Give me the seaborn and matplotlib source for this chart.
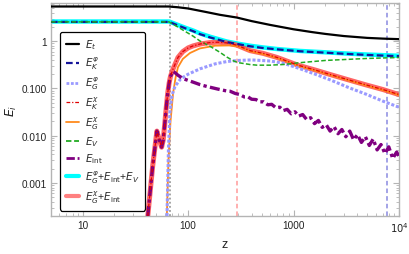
import matplotlib
matplotlib.use('Agg')
import matplotlib.pyplot as plt
import seaborn as sns
from matplotlib.ticker import FixedLocator, LogLocator, NullFormatter
from matplotlib.lines import Line2D

sns.set_theme(style='ticks')
plt.rcParams['font.family'] = ['Liberation Sans', 'DejaVu Sans']
plt.rcParams['mathtext.fontset'] = 'dejavusans'

# ---- data ----
z_t = [5, 65, 80, 100, 150, 200, 290, 400, 600, 1000, 1500, 2000, 3000, 5000, 7000, 10000]
E_t = [5.4, 5.4, 5.2, 4.9, 4.1, 3.6, 3.15, 2.65, 2.2, 1.78, 1.55, 1.42, 1.28, 1.17, 1.13, 1.1]

z_phi = [5, 66, 80, 95, 111, 130, 161, 200, 233, 300, 385, 500, 700, 1150, 2000, 3000, 5000, 10000]
E_K_phi = [2.55, 2.55, 2.15, 1.85, 1.63, 1.4, 1.2, 1.05, 0.95, 0.86, 0.78, 0.72, 0.67, 0.61, 0.57, 0.54, 0.51, 0.48]
E_sum_phi = [2.6, 2.6, 2.2, 1.9, 1.68, 1.45, 1.24, 1.08, 0.98, 0.88, 0.8, 0.74, 0.68, 0.62, 0.58, 0.55, 0.52, 0.49]

z_v = [5, 66, 80, 111, 130, 161, 200, 233, 270, 300, 385, 450, 600, 800, 1150, 2000, 5000, 10000]
E_V = [2.55, 2.55, 1.98, 1.28, 1.0, 0.78, 0.58, 0.46, 0.38, 0.35, 0.32, 0.31, 0.31, 0.32, 0.35, 0.39, 0.43, 0.45]

z_chi = [41.4, 46, 50.5, 53, 56, 58, 60, 62, 64, 66, 68, 72, 80, 89, 100, 111, 130, 160, 190, 230,
         290, 385, 515, 700, 1100, 1600, 2250, 3300, 4900, 7000, 10000]
E_sum_chi = [2e-4, 0.0022, 0.0125, 0.0085, 0.0057, 0.008, 0.018, 0.04, 0.08, 0.13, 0.18, 0.26, 0.45, 0.6,
             0.72, 0.79, 0.87, 0.93, 0.95, 0.92, 0.82, 0.63, 0.55, 0.45, 0.31, 0.245, 0.195, 0.152,
             0.118, 0.095, 0.074]
E_K_chi = [2e-4, 0.0022, 0.0125, 0.0085, 0.0057, 0.008, 0.018, 0.04, 0.08, 0.13, 0.18, 0.26, 0.45, 0.6,
           0.72, 0.79, 0.87, 0.93, 0.95, 0.92, 0.82, 0.63, 0.55, 0.45, 0.31, 0.245, 0.195, 0.152,
           0.118, 0.095, 0.074]

z_gchi = [62.8, 65, 68, 72, 76, 80, 89, 104, 129, 180, 250, 300, 385, 515, 700, 1100, 1600, 2250,
          3300, 4900, 7000, 10000]
E_G_chi = [2e-4, 0.003, 0.02, 0.08, 0.17, 0.28, 0.42, 0.56, 0.70, 0.80, 0.81, 0.77, 0.61, 0.53, 0.44,
           0.30, 0.238, 0.19, 0.148, 0.115, 0.092, 0.072]

z_gphi = [63, 65, 67, 70, 75, 85, 100, 130, 180, 233, 300, 400, 600, 800, 1100, 1600, 2250, 3300,
          4900, 7000, 10000]
E_G_phi = [2e-4, 0.005, 0.03, 0.07, 0.11, 0.16, 0.2, 0.26, 0.33, 0.37, 0.39, 0.40, 0.38, 0.34, 0.27,
           0.2, 0.15, 0.105, 0.075, 0.054, 0.04]

z_int = [41.4, 46, 50.5, 53, 56, 58, 60, 62, 64, 66, 68, 72, 76, 80, 90, 111, 130, 150, 190, 233,
         250, 280, 310, 340, 370, 400, 440, 480, 520, 570, 620, 680, 740, 800, 870, 950, 1030, 1120,
         1220, 1330, 1450, 1580, 1720, 1870, 2040, 2220, 2420, 2640, 2870, 3130, 3410, 3710, 4040,
         4400, 4800, 5230, 5690, 6200, 6750, 7350, 8000, 8720, 9500, 10000]
E_int = [2e-4, 0.0022, 0.0125, 0.0085, 0.0057, 0.008, 0.018, 0.04, 0.08, 0.13, 0.18, 0.23, 0.21, 0.19,
         0.16, 0.136, 0.12, 0.11, 0.097, 0.088, 0.087, 0.078, 0.074, 0.066, 0.066, 0.059, 0.058, 0.052,
         0.052, 0.045, 0.046, 0.039, 0.040, 0.034, 0.036, 0.029, 0.032, 0.026, 0.028, 0.022, 0.024,
         0.018, 0.021, 0.015, 0.017, 0.0125, 0.0155, 0.011, 0.0135, 0.0095, 0.0125, 0.0082, 0.0105,
         0.0072, 0.0095, 0.0062, 0.0085, 0.005, 0.0065, 0.0042, 0.0058, 0.0033, 0.0045, 0.0036]

vlines = [68, 290, 7700]
vcolors = ['#8c8c8c', '#ff9a9a', '#8a8ae0']
vstyles = [(0, (1.2, 1.5)), (0, (3, 2)), (0, (3, 2))]

# ---- figure ----
fig = plt.figure(figsize=(4.09, 2.55), dpi=100)
ax = fig.add_axes([51 / 409, 1 - 217 / 255, 348 / 409, 213 / 255])

for xv, c, ls in zip(vlines, vcolors, vstyles):
    ax.axvline(xv, color=c, ls=ls, lw=1.1, zorder=1)

sns.lineplot(x=z_phi, y=E_sum_phi, ax=ax, color='#00ffff', lw=3.2, zorder=2)
sns.lineplot(x=z_chi, y=E_sum_chi, ax=ax, color='#ff4a4a', lw=3.6, alpha=0.85, zorder=2)
sns.lineplot(x=z_gchi, y=E_G_chi, ax=ax, color='#ff8a1c', lw=1.3, zorder=3)
sns.lineplot(x=z_gphi, y=E_G_phi, ax=ax, color='#9a9aff', lw=2.2, ls=(0, (1, 0.6)), zorder=3)
sns.lineplot(x=z_phi, y=E_K_phi, ax=ax, color='#14149a', lw=1.6, ls=(0, (3, 1.5)), zorder=4)
sns.lineplot(x=z_v, y=E_V, ax=ax, color='#22aa22', lw=1.1, ls=(0, (3, 1.5)), zorder=4)
sns.lineplot(x=z_t, y=E_t, ax=ax, color='black', lw=1.6, zorder=4)
sns.lineplot(x=z_int, y=E_int, ax=ax, color='#800080', lw=2.4, ls=(0, (3, 1, 1, 1)), zorder=5)
sns.lineplot(x=z_chi, y=E_K_chi, ax=ax, color='#e00000', lw=0.9, ls=(0, (3, 1.5, 1, 1.5)), zorder=5)

ax.set_xscale('log')
ax.set_yscale('log')
ax.set_xlim(5, 1e4)
ax.set_ylim(2e-4, 6.4)

ax.xaxis.set_major_locator(FixedLocator([10, 100, 1000, 10000]))
ax.set_xticklabels(['10', '100', '1000', '$10^4$'])
ax.xaxis.set_minor_locator(LogLocator(base=10, subs=range(2, 10), numticks=20))
ax.xaxis.set_minor_formatter(NullFormatter())
ax.yaxis.set_major_locator(FixedLocator([0.001, 0.01, 0.1, 1]))
ax.set_yticklabels(['0.001', '0.010', '0.100', '1'])
ax.yaxis.set_minor_locator(LogLocator(base=10, subs=range(2, 10), numticks=20))
ax.yaxis.set_minor_formatter(NullFormatter())

frame_c = '#b4b4b4'
for sp in ax.spines.values():
    sp.set_color(frame_c)
    sp.set_linewidth(1.0)
ax.tick_params(which='both', direction='in', top=True, right=True, color=frame_c,
               labelsize=7.2, labelcolor='#222222', pad=3)
ax.tick_params(which='major', length=4, width=0.8)
ax.tick_params(which='minor', length=2, width=0.6)

ax.set_xlabel('z', fontsize=9, labelpad=3, color='#222222')
ax.set_ylabel('$E_i$', fontsize=9, labelpad=2, color='#222222')

handles = [
    Line2D([], [], color='black', lw=1.6),
    Line2D([], [], color='#14149a', lw=1.6, ls=(0, (3, 1.5))),
    Line2D([], [], color='#9a9aff', lw=2.0, ls=(0, (1, 0.6))),
    Line2D([], [], color='#e00000', lw=0.9, ls=(0, (3, 1.5, 1, 1.5))),
    Line2D([], [], color='#ff8a1c', lw=1.3),
    Line2D([], [], color='#22aa22', lw=1.3, ls=(0, (3, 1.5))),
    Line2D([], [], color='#800080', lw=2.0, ls=(0, (3, 1, 1, 1))),
    Line2D([], [], color='#00ffff', lw=3.0),
    Line2D([], [], color='#ff8080', lw=3.0),
]
labels = [r'$E_t$', r'$E_K^{\varphi}$', r'$E_G^{\varphi}$', r'$E_K^{\chi}$', r'$E_G^{\chi}$',
          r'$E_V$', r'$E_{\rm int}$', r'$E_G^{\varphi}$+$E_{\rm int}$+$E_V$',
          r'$E_G^{\chi}$+$E_{\rm int}$']
leg = ax.legend(handles, labels, loc='upper left', bbox_to_anchor=(0.026, 0.864),
                borderaxespad=0, fontsize=7.5, frameon=True, fancybox=True,
                handlelength=1.3, handletextpad=0.5, labelspacing=0.32,
                borderpad=0.55, framealpha=1)
leg.get_frame().set_edgecolor('black')
leg.get_frame().set_linewidth(0.9)
leg.set_zorder(10)

fig.savefig('out.png', dpi=100)
